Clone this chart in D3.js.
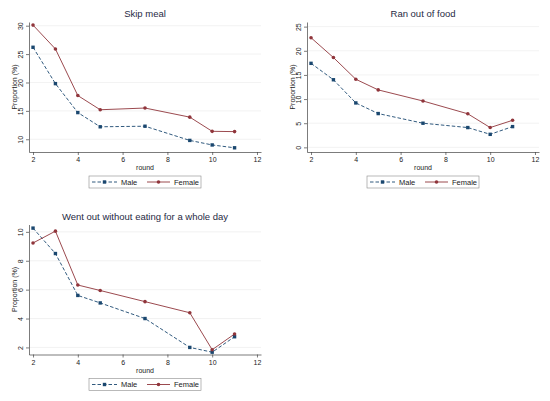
<!DOCTYPE html>
<html>
<head>
<meta charset="utf-8">
<script src="https://cdn.jsdelivr.net/npm/d3@7"></script>
<style>
  body { margin: 0; background: #fff; }
  svg { display: block; font-family: "Liberation Sans", Arial, sans-serif; }
  .tick text { fill: #222; }
</style>
</head>
<body>
<svg id="chart" width="550" height="401"></svg>
<script>
// rounds surveyed
var rounds = [2, 3, 4, 5, 7, 9, 10, 11];

// proportions (%)
var skipMale     = [26.2, 19.8, 14.7, 12.2, 12.3, 9.8, 9.0, 8.5];
var skipFemale   = [30.1, 25.9, 17.7, 15.2, 15.5, 13.9, 11.4, 11.35];
var ranMale      = [17.4, 14.0, 9.2, 7.0, 5.0, 4.1, 2.7, 4.3];
var ranFemale    = [22.7, 18.6, 14.1, 11.9, 9.6, 6.95, 4.1, 5.6];
var wentMale     = [10.26, 8.5, 5.6, 5.08, 4.0, 2.0, 1.67, 2.74];
var wentFemale   = [9.23, 10.05, 6.32, 5.94, 5.17, 4.4, 1.84, 2.93];

var xTicks = [2, 4, 6, 8, 10, 12];
var skipTicks = [10, 15, 20, 25, 30];
var ranTicks = [0, 5, 10, 15, 20, 25];
var wentTicks = [2, 4, 6, 8, 10];

var maleColor = '#1a476f';
var femaleColor = '#90353b';

var svg = d3.select('#chart');

// one Stata-like panel
function drawPanel(ox, oy, title, male, female, yDomain, yTicks) {
    var left = 29, right = 261, top = 22, bottom = 152;
    var g = svg.append('g').attr('transform', 'translate(' + ox + ',' + oy + ')');

    var x = d3.scaleLinear().domain([1.82, 12.18]).range([left, right]);
    var y = d3.scaleLinear().domain(yDomain).range([bottom, top]);

    // gridlines
    g.selectAll('.grid')
        .data(yTicks)
        .enter()
        .append('line')
        .attr('x1', left).attr('x2', right)
        .attr('y1', function(d) { return y(d); })
        .attr('y2', function(d) { return y(d); })
        .attr('stroke', '#ececec')
        .attr('stroke-width', 0.7);

    // y axis
    var yAxis = g.append('g')
        .attr('transform', 'translate(' + left + ',0)')
        .call(d3.axisLeft(y).tickValues(yTicks).tickSize(3).tickSizeOuter(0).tickPadding(2));
    yAxis.selectAll('.tick text')
        .attr('transform', 'rotate(-90)')
        .attr('x', 0).attr('y', -6)
        .attr('dy', 0)
        .style('text-anchor', 'middle')
        .style('font-size', '7px');

    // x axis
    var xAxis = g.append('g')
        .attr('transform', 'translate(0,' + bottom + ')')
        .call(d3.axisBottom(x).tickValues(xTicks).tickSize(3).tickSizeOuter(0).tickPadding(2));
    xAxis.selectAll('.tick text').style('font-size', '7px').attr('dy', '0.75em');

    [yAxis, xAxis].forEach(function(a) {
        a.select('.domain').attr('stroke', '#444').attr('stroke-width', 0.7);
        a.selectAll('.tick line').attr('stroke', '#444').attr('stroke-width', 0.7);
    });

    // titles
    g.append('text')
        .attr('x', (left + right) / 2).attr('y', 17)
        .attr('text-anchor', 'middle')
        .style('font-size', '9.5px')
        .attr('fill', '#1f2a44')
        .text(title);

    g.append('text')
        .attr('transform', 'translate(16.5,' + ((top + bottom) / 2) + ') rotate(-90)')
        .attr('text-anchor', 'middle')
        .style('font-size', '7px')
        .attr('fill', '#222')
        .text('Proportion (%)');

    g.append('text')
        .attr('x', (left + right) / 2).attr('y', 170)
        .attr('text-anchor', 'middle')
        .style('font-size', '7px')
        .attr('fill', '#222')
        .text('round');

    var line = d3.line()
        .x(function(d, i) { return x(rounds[i]); })
        .y(function(d) { return y(d); });

    // male: dashed navy with squares
    g.append('path')
        .datum(male)
        .attr('d', line)
        .attr('fill', 'none')
        .attr('stroke', maleColor)
        .attr('stroke-width', 0.9)
        .attr('stroke-dasharray', '3.5,2');

    // female: solid maroon with dots
    g.append('path')
        .datum(female)
        .attr('d', line)
        .attr('fill', 'none')
        .attr('stroke', femaleColor)
        .attr('stroke-width', 0.9);

    g.selectAll('.msq')
        .data(male)
        .enter()
        .append('rect')
        .attr('x', function(d, i) { return x(rounds[i]) - 1.7; })
        .attr('y', function(d) { return y(d) - 1.7; })
        .attr('width', 3.4).attr('height', 3.4)
        .attr('fill', maleColor);

    g.selectAll('.fdot')
        .data(female)
        .enter()
        .append('circle')
        .attr('cx', function(d, i) { return x(rounds[i]); })
        .attr('cy', function(d) { return y(d); })
        .attr('r', 1.8)
        .attr('fill', femaleColor);

    // legend
    var lg = g.append('g');
    lg.append('rect')
        .attr('x', 89).attr('y', 176)
        .attr('width', 112).attr('height', 12)
        .attr('fill', '#fff')
        .attr('stroke', '#8a8a8a')
        .attr('stroke-width', 0.6);
    lg.append('line')
        .attr('x1', 92).attr('x2', 117).attr('y1', 182).attr('y2', 182)
        .attr('stroke', maleColor).attr('stroke-width', 0.9)
        .attr('stroke-dasharray', '3.5,2');
    lg.append('rect')
        .attr('x', 104.5 - 1.7).attr('y', 182 - 1.7)
        .attr('width', 3.4).attr('height', 3.4)
        .attr('fill', maleColor);
    lg.append('text')
        .attr('x', 121).attr('y', 184.6)
        .style('font-size', '7.5px').attr('fill', '#222')
        .text('Male');
    lg.append('line')
        .attr('x1', 147).attr('x2', 170).attr('y1', 182).attr('y2', 182)
        .attr('stroke', femaleColor).attr('stroke-width', 0.9);
    lg.append('circle')
        .attr('cx', 158.5).attr('cy', 182).attr('r', 1.8)
        .attr('fill', femaleColor);
    lg.append('text')
        .attr('x', 174).attr('y', 184.6)
        .style('font-size', '7.5px').attr('fill', '#222')
        .text('Female');
}

drawPanel(0, 0, 'Skip meal', skipMale, skipFemale, [7.76, 30.65], skipTicks);
drawPanel(278, 0, 'Ran out of food', ranMale, ranFemale, [-0.96, 25.96], ranTicks);
drawPanel(0, 202.5, 'Went out without eating for a whole day', wentMale, wentFemale, [1.51, 10.51], wentTicks);
</script>
</body>
</html>
